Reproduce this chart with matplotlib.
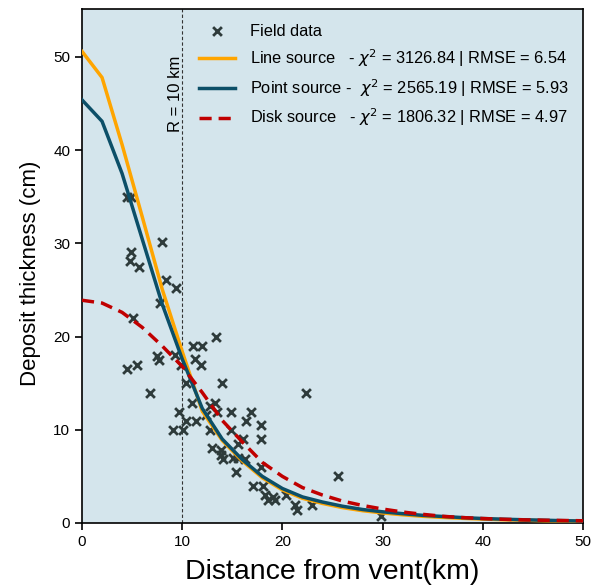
import numpy as np
import matplotlib
matplotlib.use("Agg")
import matplotlib.pyplot as plt

plt.rcParams['font.family'] = ['Liberation Sans', 'DejaVu Sans']
plt.rcParams['mathtext.fontset'] = 'dejavusans'

# field measurements (distance km, thickness cm)
field_x = [4.5, 4.9, 7.95, 4.85, 4.8, 5.7, 8.4, 9.4, 7.8, 5.1, 7.5, 7.7, 5.45, 4.45,
           9.3, 9.9, 6.8, 11.1, 11.95, 11.3, 11.85, 13.4, 10.4, 13.95, 10.95, 13.3,
           9.7, 14.9, 16.9, 10.4, 11.4, 12.4, 13.5, 16.4, 17.9, 9.05, 10.05, 12.8,
           14.9, 17.9, 16.1, 12.95, 13.9, 13.9, 14.1, 15.1, 15.6, 16.3, 15.4, 17.9,
           15.6, 17.1, 18.1, 18.3, 18.6, 19.3, 19.1, 20.4, 21.3, 21.5, 23.0, 25.5,
           22.4, 29.8, 12.8]
field_y = [35.0, 35.0, 30.1, 29.1, 28.1, 27.5, 26.1, 25.2, 23.6, 22.0, 17.9, 17.5, 17.0, 16.5,
           18.0, 17.0, 14.0, 19.0, 19.0, 17.6, 17.0, 20.0, 15.0, 15.0, 12.9, 12.9,
           11.9, 11.9, 11.9, 10.9, 10.9, 11.6, 11.9, 10.9, 10.5, 10.0, 10.0, 10.0,
           10.0, 9.0, 9.0, 8.0, 7.8, 7.3, 6.9, 7.0, 7.0, 6.9, 5.5, 6.0,
           8.5, 4.0, 4.0, 3.0, 2.5, 2.5, 2.8, 3.0, 1.9, 1.4, 1.9, 5.0,
           14.0, 0.7, 12.5]

# model curves
model_x = [0, 2, 4, 6, 8, 10, 12, 14, 16, 18, 20, 22, 24, 26, 28, 30, 32, 34, 36, 38,
           40, 42, 44, 46, 48, 50]
line_src = [50.6, 47.8, 40.6, 32.9, 25.1, 18.4, 12.0, 8.85, 6.65, 4.85, 3.55, 2.65, 2.1,
            1.65, 1.32, 1.08, 0.88, 0.72, 0.6, 0.5, 0.42, 0.35, 0.3, 0.25, 0.21, 0.18]
point_src = [45.4, 43.1, 37.5, 30.5, 23.5, 17.6, 12.3, 9.0, 6.8, 5.0, 3.7, 2.8, 2.25,
             1.8, 1.45, 1.2, 1.0, 0.82, 0.7, 0.58, 0.48, 0.41, 0.35, 0.3, 0.25, 0.21]
disk_src = [23.9, 23.6, 22.6, 21.0, 19.0, 16.8, 14.0, 11.0, 8.7, 6.5, 5.0, 3.8, 3.0,
            2.35, 1.88, 1.5, 1.18, 0.93, 0.72, 0.58, 0.48, 0.4, 0.34, 0.3, 0.27, 0.24]

labels = ['Field data',
          r'Line source   - $\chi^2$ = 3126.84 | RMSE = 6.54',
          r'Point source -  $\chi^2$ = 2565.19 | RMSE = 5.93',
          r'Disk source   - $\chi^2$ = 1806.32 | RMSE = 4.97']

fig = plt.figure(figsize=(5.98, 5.87), dpi=100)
ax = fig.add_axes([82/598, 64/587, 501/598, 514/587])
ax.set_facecolor('#d4e5ec')

ax.scatter(field_x, field_y, marker='x', s=40, linewidths=2, color='#2e3b3b',
           label=labels[0], zorder=2)
ax.plot(model_x, line_src, color='#ffa500', lw=2.5, label=labels[1], zorder=3)
ax.plot(model_x, point_src, color='#0c4f68', lw=2.5, label=labels[2], zorder=4)
ax.plot(model_x, disk_src, color='#c00000', lw=2.5, ls=(0, (3.5, 2)), label=labels[3], zorder=5)

ax.axvline(10, color='#333333', lw=0.8, ls=(0, (3, 2)), zorder=1)
ax.text(9.35, 46.1, 'R = 10 km', rotation=90, ha='center', va='center', fontsize=12)

ax.set_xlim(0, 50)
ax.set_ylim(0, 55.15)
ax.set_xticks([0, 10, 20, 30, 40, 50])
ax.set_yticks([0, 10, 20, 30, 40, 50])
ax.tick_params(labelsize=11, length=5, width=1.2)
for s in ax.spines.values():
    s.set_linewidth(1.2)

ax.set_xlabel('Distance from vent(km)', fontsize=20.5)
ax.set_ylabel('Deposit thickness (cm)', fontsize=16)
ax.xaxis.set_label_coords(0.5, -0.07)
ax.yaxis.set_label_coords(-0.082, 0.485)

ax.legend(loc='upper right', frameon=False, fontsize=11.8, labelspacing=0.5,
          handlelength=2.2, handletextpad=0.9, borderaxespad=0.5)

fig.savefig('out.png', dpi=100)
